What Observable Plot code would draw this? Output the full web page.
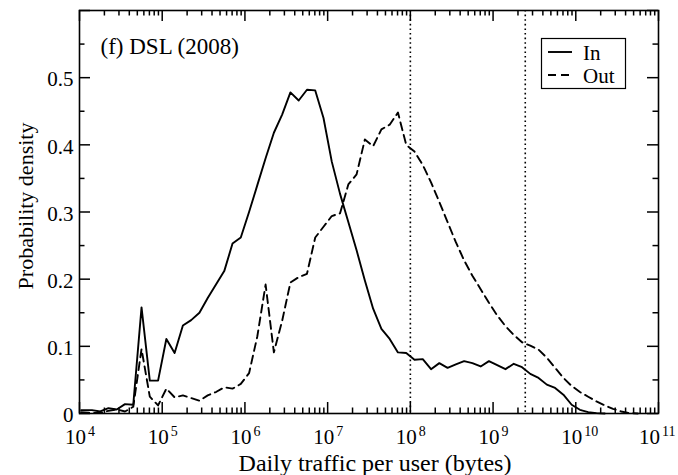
<!DOCTYPE html>
<html>
<head>
<meta charset="utf-8">
<script src="https://cdn.jsdelivr.net/npm/d3@7"></script>
<script src="https://cdn.jsdelivr.net/npm/@observablehq/plot@0.6"></script>
<style>
  html, body { margin: 0; padding: 0; background: #fff; }
  #chart { width: 678px; height: 475px; }
  #chart svg text { font-family: "Liberation Serif", "Times New Roman", serif; }
</style>
</head>
<body>
<div id="chart"></div>
<script>
// ---- data (x as log10 of bytes) ----
const inExponent = [4.02,4.15,4.25,4.35,4.45,4.55,4.65,4.75,4.85,4.95,
  5.05,5.15,5.25,5.35,5.45,5.55,5.65,5.75,5.85,5.95,
  6.05,6.15,6.25,6.35,6.45,6.55,6.65,6.75,6.85,6.95,
  7.05,7.15,7.25,7.35,7.45,7.55,7.65,7.75,7.85,7.95,
  8.05,8.15,8.25,8.35,8.45,8.55,8.65,8.75,8.85,8.95,
  9.05,9.15,9.25,9.35,9.45,9.55,9.65,9.75,9.85,9.95,
  10.05,10.15,10.25,10.35];
const inDensity = [0.005,0.005,0.003,0.008,0.006,0.014,0.013,0.158,0.049,0.049,
  0.111,0.090,0.131,0.139,0.150,0.172,0.192,0.212,0.253,0.262,
  0.300,0.340,0.380,0.418,0.445,0.478,0.466,0.482,0.481,0.440,
  0.375,0.327,0.285,0.243,0.198,0.156,0.126,0.111,0.091,0.090,
  0.080,0.081,0.066,0.075,0.068,0.073,0.078,0.075,0.070,0.078,
  0.072,0.066,0.074,0.069,0.059,0.053,0.043,0.038,0.028,0.013,
  0.0055,0.002,0.0005,0];

const outExponent = [4.02,4.15,4.25,4.35,4.45,4.55,4.65,4.75,4.85,4.95,
  5.05,5.15,5.25,5.35,5.45,5.55,5.65,5.75,5.85,5.95,
  6.05,6.15,6.25,6.35,6.45,6.55,6.65,6.75,6.85,6.95,
  7.05,7.15,7.25,7.35,7.45,7.55,7.65,7.75,7.85,7.95,
  8.05,8.15,8.25,8.35,8.45,8.55,8.65,8.75,8.85,8.95,
  9.05,9.15,9.25,9.35,9.45,9.55,9.65,9.75,9.85,9.95,
  10.05,10.15,10.25,10.35,10.45,10.55,10.65,10.75];
const outDensity = [0.002,0.001,0.001,0.004,0.006,0.003,0.010,0.096,0.025,0.012,
  0.037,0.024,0.027,0.023,0.019,0.027,0.032,0.039,0.037,0.044,
  0.060,0.115,0.192,0.091,0.138,0.195,0.203,0.208,0.262,0.278,
  0.294,0.298,0.341,0.356,0.408,0.398,0.423,0.430,0.448,0.400,
  0.390,0.370,0.344,0.315,0.285,0.255,0.228,0.205,0.185,0.165,
  0.146,0.130,0.117,0.106,0.101,0.095,0.083,0.068,0.053,0.041,
  0.032,0.025,0.018,0.012,0.007,0.003,0.0005,0];

const dividerLines = [1e8, 2.45e9];
const xMajorTicks = [1e4,1e5,1e6,1e7,1e8,1e9,1e10,1e11];
const xExponentLabels = ["4","5","6","7","8","9","10","11"];
const yMajorTicks = [0,0.1,0.2,0.3,0.4,0.5,0.6];
const yTickLabels = ["0","0.1","0.2","0.3","0.4","0.5"];
const yMinorTicks = [0.05,0.15,0.25,0.35,0.45,0.55];
const minorMultipliers = [2,3,4,5,6,7,8,9];
const seriesNames = ["In","Out"];
const panelTitle = "(f) DSL (2008)";
const xTitle = "Daily traffic per user (bytes)";
const yTitle = "Probability density";

// ---- build tables ----
const inData = inExponent.map((e,i) => ({x: Math.pow(10,e), y: inDensity[i]}));
const outData = outExponent.map((e,i) => ({x: Math.pow(10,e), y: outDensity[i]}));
const xMinorTicks = [];
for (let n = 4; n < 11; n++) for (const m of minorMultipliers) xMinorTicks.push(m * Math.pow(10,n));
const xLabelData = xMajorTicks.map((v,i) => ({v, e: xExponentLabels[i]}));
const xLabelsInner = xLabelData.slice(0, -1);
const xLabelLast = xLabelData.slice(-1);
const yLabelData = yTickLabels.map(t => ({v: +t, t}));

const W = 678, H = 475;
const mL = 79, mR = 20, mT = 10, mB = 62;
const innerW = W - mL - mR, innerH = H - mT - mB;
const majorLen = 11, minorLen = 5.5;
const tickStyle = {stroke: "black", strokeWidth: 1.5};

const chart = Plot.plot({
  width: W, height: H,
  marginLeft: mL, marginRight: mR, marginTop: mT, marginBottom: mB,
  style: {fontSize: "22px", color: "black", background: "white"},
  x: {type: "log", domain: [1e4, 1e11], axis: null},
  y: {domain: [0, 0.6], axis: null},
  marks: [
    Plot.ruleX(dividerLines, {x: d => d, stroke: "black", strokeWidth: 1.6, strokeDasharray: "1.6,3"}),
    Plot.line(inData, {x: "x", y: "y", stroke: "black", strokeWidth: 1.9}),
    Plot.line(outData, {x: "x", y: "y", stroke: "black", strokeWidth: 1.9, strokeDasharray: "8,5"}),
    Plot.tickX(xMajorTicks, {x: d => d, insetTop: innerH - majorLen, ...tickStyle}),
    Plot.tickX(xMajorTicks, {x: d => d, insetBottom: innerH - majorLen, ...tickStyle}),
    Plot.tickX(xMinorTicks, {x: d => d, insetTop: innerH - minorLen, ...tickStyle}),
    Plot.tickX(xMinorTicks, {x: d => d, insetBottom: innerH - minorLen, ...tickStyle}),
    Plot.tickY(yMajorTicks, {y: d => d, insetRight: innerW - majorLen, ...tickStyle}),
    Plot.tickY(yMajorTicks, {y: d => d, insetLeft: innerW - majorLen, ...tickStyle}),
    Plot.tickY(yMinorTicks, {y: d => d, insetRight: innerW - minorLen, ...tickStyle}),
    Plot.tickY(yMinorTicks, {y: d => d, insetLeft: innerW - minorLen, ...tickStyle}),
    Plot.frame({stroke: "black", strokeWidth: 1.6}),
    // y tick labels
    Plot.text(yLabelData, {y: "v", text: "t", frameAnchor: "left", textAnchor: "end", lineAnchor: "middle",
      dx: -6, dy: 2, fontSize: 21, fill: "black"}),
    // x tick labels 10^n
    Plot.text(xLabelsInner, {x: "v", text: () => "10", frameAnchor: "bottom", textAnchor: "middle", lineAnchor: "bottom",
      dx: -4, dy: 30, fontSize: 21, fill: "black"}),
    Plot.text(xLabelsInner, {x: "v", text: "e", frameAnchor: "bottom", textAnchor: "start", lineAnchor: "bottom",
      dx: 8.5, dy: 22, fontSize: 14, fill: "black"}),
    Plot.text(xLabelLast, {x: "v", text: () => "10", frameAnchor: "bottom", textAnchor: "middle", lineAnchor: "bottom",
      dx: -9, dy: 30, fontSize: 21, fill: "black"}),
    Plot.text(xLabelLast, {x: "v", text: "e", frameAnchor: "bottom", textAnchor: "start", lineAnchor: "bottom",
      dx: 3.5, dy: 22, fontSize: 14, fill: "black"}),
    // titles
    Plot.text([xTitle], {text: d => d, frameAnchor: "bottom", textAnchor: "middle", lineAnchor: "bottom",
      dx: 6, dy: 57, fontSize: 24, fill: "black"}),
    Plot.text([yTitle], {text: d => d, frameAnchor: "left", textAnchor: "middle", lineAnchor: "middle", rotate: -90,
      dx: -54, dy: -6, fontSize: 22, fill: "black"}),
    Plot.text([panelTitle], {text: d => d, frameAnchor: "top-left", textAnchor: "start", lineAnchor: "bottom",
      dx: 21, dy: 43, fontSize: 23, fill: "black"})
  ]
});

// legend box inside the panel
const svg = d3.select(chart);
const lg = svg.append("g").attr("font-size", 21).attr("fill", "black").attr("text-anchor", "start");
lg.append("rect").attr("x", 541.5).attr("y", 38.5).attr("width", 84).attr("height", 50)
  .attr("fill", "white").attr("stroke", "black").attr("stroke-width", 1.2);
const legendStyles = [null, "8,5"];
seriesNames.forEach((name, i) => {
  const cy = 52 + i * 23;
  lg.append("line").attr("x1", 548).attr("x2", 572).attr("y1", cy).attr("y2", cy)
    .attr("stroke", "black").attr("stroke-width", 1.9)
    .attr("stroke-dasharray", legendStyles[i]);
  lg.append("text").attr("x", 583).attr("y", cy + 8).attr("text-anchor", "start").text(name);
});

document.getElementById("chart").appendChild(chart);
</script>
</body>
</html>
